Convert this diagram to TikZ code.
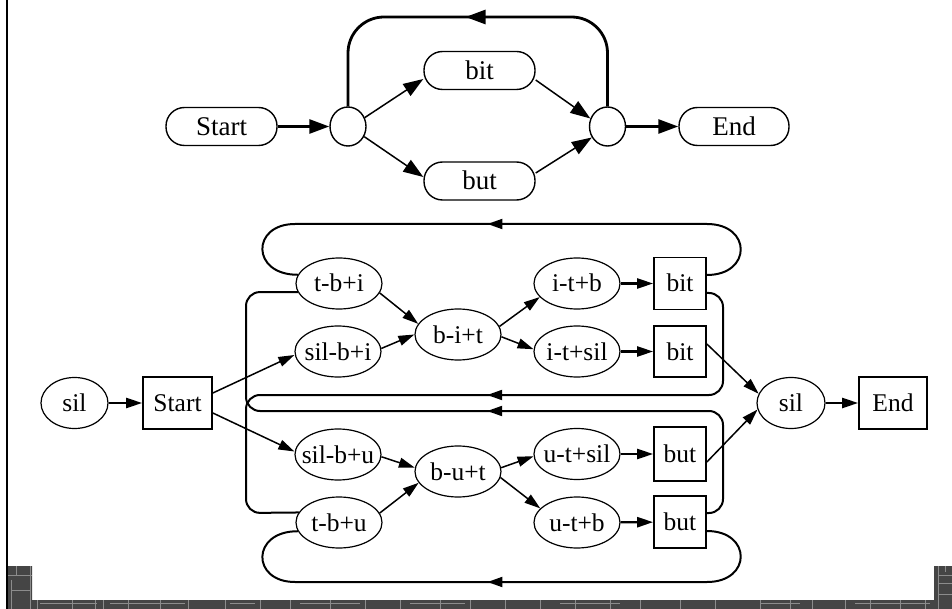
\documentclass[tikz,border=0pt]{standalone}
\usepackage{fontspec}
\setmainfont{Liberation Serif}
\usetikzlibrary{arrows.meta,shapes.geometric,decorations.markings}

\definecolor{bandgray}{HTML}{454545}
\definecolor{bandline}{HTML}{8C8C8C}

\tikzset{
  topfont/.style={font=\fontsize{27}{30}\selectfont, text height=18pt, text depth=0pt},
  botfont/.style={font=\fontsize{25.5}{30}\selectfont, text height=17pt, text depth=0pt},
  pill/.style={draw, line width=1.4pt, rounded corners=18.5pt, minimum width=111pt,
    minimum height=38pt, inner sep=0pt, topfont},
  junction/.style={draw, ellipse, line width=1.4pt, minimum width=36pt, minimum height=39pt, inner sep=0pt},
  phone/.style={draw, ellipse, line width=1.2pt, minimum width=86pt, minimum height=51pt,
    inner sep=0pt, botfont},
  wordbox/.style={draw, rectangle, line width=1.7pt, minimum width=52pt, minimum height=52pt,
    inner sep=0pt, botfont},
  bigtip/.style={-{Triangle[length=20pt,width=14pt]}},
  smalltip/.style={-{Triangle[length=16pt,width=10pt]}},
  heavyline/.style={line width=2.8pt},
  fineline/.style={line width=1.5pt},
  midline/.style={line width=2.4pt},
  backline/.style={line width=2pt},
  midtip/.style={postaction={decorate}, decoration={markings,
    mark=at position #1 with {\arrow{Triangle[length=15pt,width=10pt]}}}},
  bigmidtip/.style={postaction={decorate}, decoration={markings,
    mark=at position #1 with {\arrow{Triangle[length=20pt,width=14pt]}}}},
}

\begin{document}
\begin{tikzpicture}[x=1pt,y=-1pt]
\useasboundingbox (0,0) rectangle (952,609);
\fill[white] (0,0) rectangle (952,609);

% ---------- word network ----------
\node[pill] (StartT) at (221.5,126.5) {Start};
\node[junction] (c1) at (348,126.5) {};
\node[pill] (bitT) at (479.5,70.5) {bit};
\node[pill] (butT) at (479.5,181) {but};
\node[junction] (c2) at (607.5,126.5) {};
\node[pill, minimum width=110pt] (EndT) at (734,126.5) {End};

\draw[heavyline, bigtip] (StartT) -- (c1);
\draw[fineline, bigtip] (c1.28) -- ([yshift=-8.5pt]bitT.west);
\draw[fineline, bigtip] (c1.-32) -- ([yshift=4pt]butT.west);
\draw[fineline, bigtip] ([yshift=-9.5pt]bitT.east) -- (c2.155);
\draw[fineline, bigtip] ([yshift=8pt]butT.east) -- (c2.-145);
\draw[heavyline, bigtip] (c2) -- (EndT);
\draw[heavyline, rounded corners=36pt, bigmidtip=0.53]
  (c2.north) -- (c2.north |- 0,17) -- (c1.north |- 0,17) -- (c1.north);

% ---------- triphone network ----------
\node[phone, minimum width=67pt] (silL) at (74.5,403) {\makebox[0pt]{sil}};
\node[wordbox, minimum width=69pt] (StartB) at (177.5,403) {Start};

\node[phone] (tbi)   at (339,283.5) {\makebox[0pt]{t-b+i}};
\node[phone] (silbi) at (338,351.5) {\makebox[0pt]{sil-b+i}};
\node[phone] (bit3)  at (458,334.5) {\makebox[0pt]{b-i+t}};
\node[phone] (itb)   at (577,283.5) {\makebox[0pt]{i-t+b}};
\node[phone] (itsil) at (577,351.5) {\makebox[0pt]{i-t+sil}};
\node[wordbox] (bitA) at (680,283.5) {bit};
\node[wordbox, minimum height=51pt] (bitB) at (680,351.5) {bit};

\node[phone] (silbu) at (338,454.5) {\makebox[0pt]{sil-b+u}};
\node[phone] (tbu)   at (339,522.5) {\makebox[0pt]{t-b+u}};
\node[phone] (but3)  at (458,471.5) {\makebox[0pt]{b-u+t}};
\node[phone] (utsil) at (577,454)   {\makebox[0pt]{u-t+sil}};
\node[phone] (utb)   at (577,522.5) {\makebox[0pt]{u-t+b}};
\node[wordbox, minimum height=54pt] (butA) at (680,454) {but};
\node[wordbox] (butB) at (680,522) {but};

\node[phone, minimum width=68pt] (silR) at (791,403) {\makebox[0pt]{sil}};
\node[wordbox, minimum width=68pt] (EndB) at (893,403) {End};

% entry and exit
\draw[midline, smalltip] (silL) -- (StartB);
\draw[fineline, smalltip] ([yshift=10pt]StartB.east) -- ([yshift=-3.5pt]silbi.west);
\draw[fineline, smalltip] ([yshift=-10pt]StartB.east) -- ([yshift=3pt]silbu.west);
\draw[fineline, smalltip] ([yshift=7.5pt]bitB.east) -- (silR.164);
\draw[fineline, smalltip] ([yshift=-8pt]butA.east) -- (silR.191);
\draw[midline, smalltip] (silR) -- (EndB);

% "bit" branch
\draw[fineline, smalltip] (tbi.-13) -- (bit3.165);
\draw[fineline, smalltip] (silbi.4) -- (bit3.180);
\draw[fineline, smalltip] (bit3.11) -- (itb.200);
\draw[fineline, smalltip] (bit3.-3) -- (itsil.177);
\draw[midline, smalltip] (itb) -- (bitA);
\draw[midline, smalltip] (itsil) -- (bitB);

% "but" branch
\draw[fineline, smalltip] (silbu.-3) -- (but3.175);
\draw[fineline, smalltip] (tbu.13) -- (but3.196);
\draw[fineline, smalltip] (but3.5) -- (utsil.183);
\draw[fineline, smalltip] (but3.-8) -- (utb.159);
\draw[midline, smalltip] (utsil) -- (butA);
\draw[midline, smalltip] (utb) -- (butB);

% word-to-word returns
\draw[backline, midtip=314pt]
  ([yshift=8.5pt]bitA.east) .. controls (752,275) and (752,224) .. (707,224)
  -- (295,224) .. controls (251,224) and (251,275) .. (tbi.168);
\draw[backline, rounded corners=14pt, midtip=342pt]
  ([yshift=-9.5pt]bitA.east) -- (723,293) -- (723,395) -- (246,395) -- (246,513) -- (tbu.166.6);
\draw[backline, rounded corners=14pt, midtip=342pt]
  ([yshift=9pt]butB.east) -- (723,513) -- (723,411) -- (246,411) -- (246,292) -- (tbi.192);
\draw[backline, midtip=314pt]
  ([yshift=-9pt]butB.east) .. controls (752,531) and (752,582) .. (707,582)
  -- (295,582) .. controls (251,582) and (251,531) .. (tbu.192);

% ---------- frame edge and dark strip ----------
\draw[line width=2.6pt] (6.8,0) -- (6.8,609);
\fill[bandgray] (8,566) -- (32,566) -- (32,600) -- (934,600) -- (934,566) -- (952,566)
  -- (952,609) -- (8,609) -- cycle;
\begin{scope}[bandline, line width=1pt]
  \draw (8,575) -- (32,575);
  \draw (16,566) -- (16,575);
  \draw (30,566) -- (30,609);
  \draw (11,580) -- (11,609);
  \draw (11,590) -- (30,590);
  \foreach \x in {37,72,95,103,128,160,188,225,260,290,330,365,400,440,470,505,540,575,
                  610,640,680,715,760,790,812,845,870,900,925}
    \draw (\x,600) -- (\x,609);
  \foreach \a/\b in {40/97,110/185,300/360,560/620,760/800,855/930,230/255,410/465}
    \draw (\a,603.5) -- (\b,603.5);
  \draw (938,566) -- (938,609);
  \draw (938,575) -- (952,575);
  \draw (938,583) -- (952,583);
  \draw (945,566) -- (945,572);
  \draw (938,594) -- (952,594);
\end{scope}
\end{tikzpicture}
\end{document}
